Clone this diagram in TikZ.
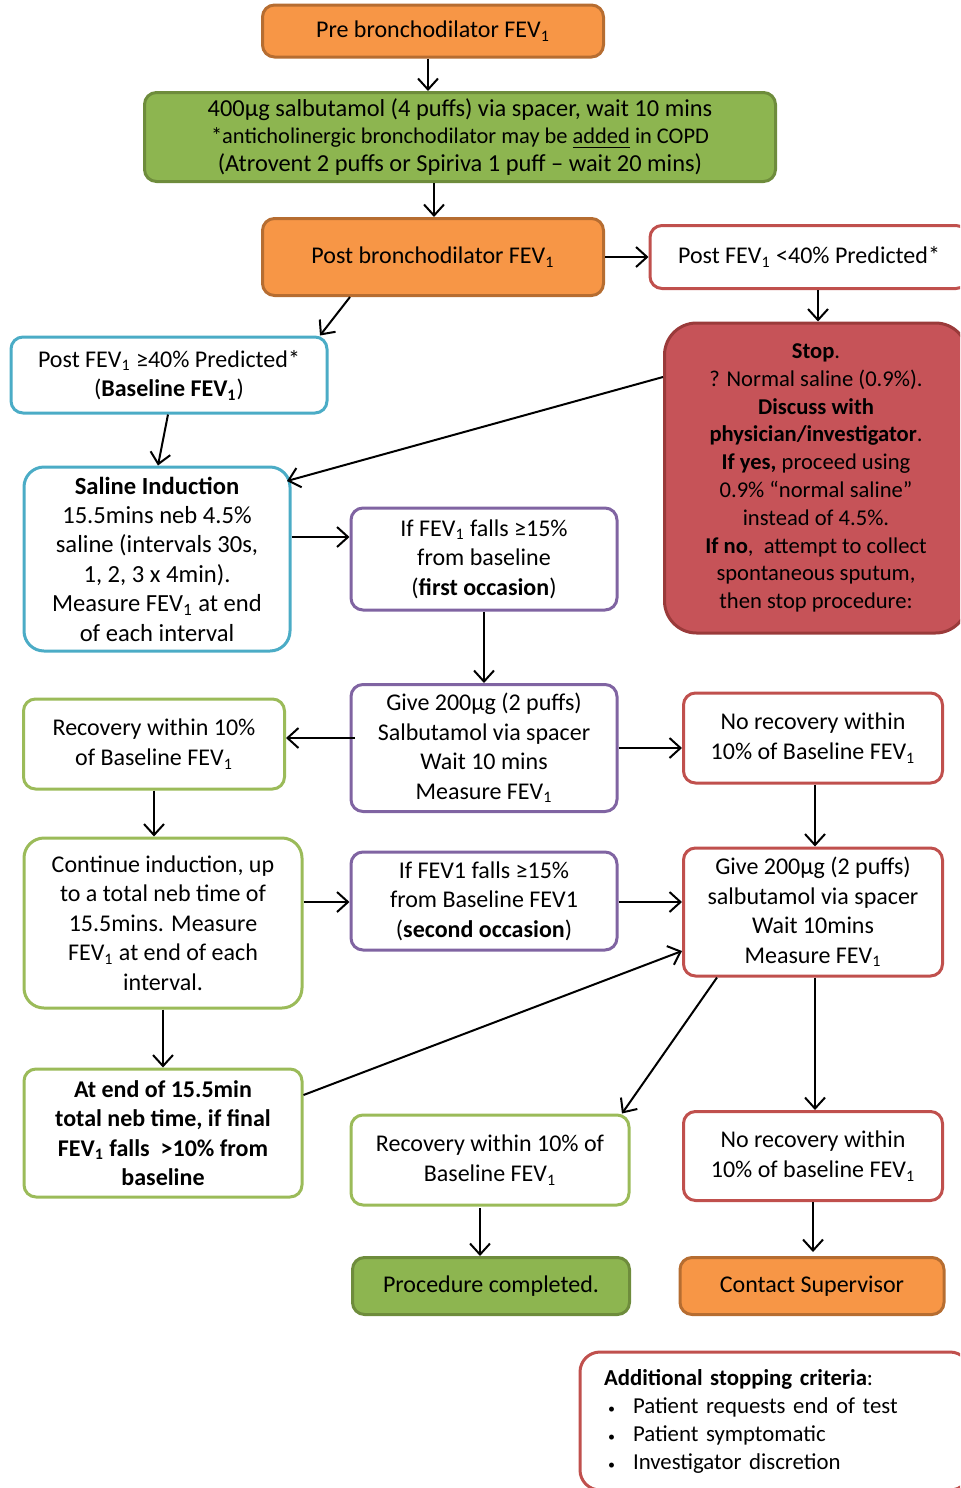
\documentclass[tikz,border=0pt]{standalone}
\usepackage{fontspec}
\setmainfont{Carlito}
\usetikzlibrary{arrows.meta,calc}
\definecolor{orangeF}{HTML}{F79646}
\definecolor{orangeD}{HTML}{B66D31}
\definecolor{greenF}{HTML}{8DB550}
\definecolor{greenD}{HTML}{6E8C3C}
\definecolor{redF}{HTML}{C65358}
\definecolor{redD}{HTML}{9A3A3A}
\definecolor{blueB}{HTML}{4BACC6}
\definecolor{purpleB}{HTML}{8064A2}
\definecolor{greenB}{HTML}{9BBB59}
\definecolor{redB}{HTML}{C0504D}
\newcommand{\fev}{FEV\textsubscript{1}}
\newcommand{\smallbul}{\hspace*{2pt}\makebox[12.5pt][l]{\fontsize{7}{7}\selectfont •}}
\begin{document}
\begin{tikzpicture}[x=0.5pt,y=-0.5pt,
  box/.style={rounded corners=6pt, line width=1.5pt, align=center, inner sep=0pt,
    font=\fontsize{12}{14.7}\selectfont, text=black},
  wbox/.style={box, fill=white},
  arr/.style={line width=1pt, -{Straight Barb[length=5.5pt,width=10pt,line width=1pt]}}]
\useasboundingbox (0,0) rectangle (960,1488);
\clip (0,0) rectangle (960,1488);
% nodes
\node[box, fill=orangeF, draw=orangeD, minimum width=170.5pt, minimum height=26pt] (pre) at (433,31) {Pre bronchodilator \fev};
\node[box, fill=greenF, draw=greenD, minimum width=315.5pt, minimum height=44.5pt, font=\fontsize{12.2}{13.75}\selectfont] (salb) at (460,137)
  {400µg salbutamol (4 puffs) via spacer, wait 10 mins\\
   {\fontsize{11.2}{13.75}\selectfont *anticholinergic bronchodilator may be \underline{added} in COPD}\\
   (Atrovent 2 puffs or Spiriva 1 puff – wait 20 mins)};
\node[box, fill=orangeF, draw=orangeD, minimum width=170.5pt, minimum height=38.5pt] (post) at (433,257) {Post bronchodilator \fev};
\node[wbox, draw=redB, minimum width=159pt, minimum height=31.5pt] (lt40) at (809,257) {Post \fev{} <40\% Predicted*};
\node[wbox, draw=blueB, minimum width=158pt, minimum height=38pt] (ge40) at (169,375) {Post \fev{} ≥40\% Predicted*\\(\textbf{Baseline \fev})};
\node[box, fill=redF, draw=redD, rounded corners=16pt, minimum width=151.5pt, minimum height=155pt, font=\fontsize{11.3}{13.9}\selectfont] (stop) at (816,478)
  {\textbf{Stop}.\\? Normal saline (0.9\%).\\\textbf{Discuss with}\\\textbf{physician/investigator}.\\\textbf{If yes,} proceed using\\0.9\% “normal saline”\\instead of 4.5\%.\\\textbf{If no},~ attempt to collect\\spontaneous sputum,\\then stop procedure:};
\node[wbox, draw=blueB, rounded corners=10pt, minimum width=133pt, minimum height=92pt, font=\fontsize{12.3}{14.7}\selectfont] (saline) at (157,559)
  {\textbf{Saline Induction}\\15.5mins neb 4.5\%\\saline (intervals 30s,\\1, 2, 3 x 4min).\\Measure \fev{} at end\\of each interval};
\node[wbox, draw=purpleB, minimum width=133pt, minimum height=51pt] (first) at (484,559) {If \fev{} falls ≥15\%\\from baseline\\(\textbf{first occasion})};
\node[wbox, draw=purpleB, minimum width=133pt, minimum height=63.5pt] (give1) at (484,748) {Give 200µg (2 puffs)\\Salbutamol via spacer\\Wait 10 mins\\Measure \fev};
\node[wbox, draw=greenB, minimum width=130.5pt, minimum height=45pt, font=\fontsize{12}{15}\selectfont] (rec1) at (154,744) {Recovery within 10\%\\of Baseline \fev};
\node[wbox, draw=redB, minimum width=129.5pt, minimum height=45pt, font=\fontsize{12}{15}\selectfont] (norec1) at (813,738) {No recovery within\\10\% of Baseline \fev};
\node[wbox, draw=greenB, rounded corners=10pt, minimum width=139pt, minimum height=85pt] (cont) at (163,923) {Continue induction, up\\to a total neb time of\\15.5mins. Measure\\\fev{} at end of each\\interval.};
\node[wbox, draw=purpleB, minimum width=133pt, minimum height=49pt] (second) at (484,901) {If FEV1 falls ≥15\%\\from Baseline FEV1\\(\textbf{second occasion})};
\node[wbox, draw=redB, minimum width=129.5pt, minimum height=64pt] (give2) at (813,912) {Give 200µg (2 puffs)\\salbutamol via spacer\\Wait 10mins\\Measure \fev};
\node[wbox, draw=greenB, minimum width=139pt, minimum height=64pt, font=\bfseries\fontsize{12}{14.7}\selectfont] (atend) at (163,1133) {At end of 15.5min\\total neb time, if final\\\fev{} falls~ >10\% from\\baseline};
\node[wbox, draw=greenB, minimum width=139pt, minimum height=45pt, font=\fontsize{12}{15}\selectfont] (rec2) at (490,1160) {Recovery within 10\% of\\Baseline \fev};
\node[wbox, draw=redB, minimum width=129.5pt, minimum height=44.5pt, font=\fontsize{12}{15}\selectfont] (norec2) at (813,1156) {No recovery within\\10\% of baseline \fev};
\node[box, fill=greenF, draw=greenD, minimum width=138.5pt, minimum height=28.5pt] (done) at (491,1286) {Procedure completed.};
\node[box, fill=orangeF, draw=orangeD, minimum width=132pt, minimum height=28.5pt] (sup) at (812,1286) {Contact Supervisor};
\node[wbox, draw=redB, rounded corners=10pt, minimum width=195pt, minimum height=69pt, align=left, text width=171pt, inner xsep=12pt, font=\fontsize{11.4}{14}\selectfont] (addl) at (775,1421)
  {\textbf{Additional stopping criteria}:\\
   \smallbul Patient requests end of test\\
   \smallbul Patient symptomatic\\
   \smallbul Investigator discretion};
% connectors
\draw[arr] (428,0 |- pre.south) -- (428,0 |- salb.north);
\draw[arr] (434,0 |- salb.south) -- (434,0 |- post.north);
\draw[arr] (post.east) -- (lt40.west);
\draw[arr] (350,0 |- post.south) -- (320,0 |- ge40.north);
\draw[arr] (818,0 |- lt40.south) -- (818,0 |- stop.north);
\draw[arr] (168,0 |- ge40.south) -- (158,0 |- saline.north);
\draw[arr] (stop.west |- 0,377) -- (287,481);
\draw[arr] (saline.east |- 0,537) -- (first.west |- 0,537);
\draw[arr] (first.south) -- (give1.north);
\draw[arr] (355,738) -- (rec1.east |- 0,738);
\draw[arr] (give1.east |- 0,748) -- (norec1.west |- 0,748);
\draw[arr] (rec1.south) -- (cont.north -| rec1.south);
\draw[arr] (815,0 |- norec1.south) -- (815,0 |- give2.north);
\draw[arr] (cont.east |- 0,902) -- (second.west |- 0,902);
\draw[arr] (second.east |- 0,902) -- (give2.west |- 0,902);
\draw[arr] (cont.south) -- (atend.north);
\draw[arr] (atend.east |- 0,1095) -- (give2.west |- 0,951);
\draw[arr] (717,0 |- give2.south) -- (622,0 |- rec2.north);
\draw[arr] (815,0 |- give2.south) -- (815,0 |- norec2.north);
\draw[arr] (480,1208) -- (480,0 |- done.north);
\draw[arr] (813,0 |- norec2.south) -- (813,1252);
\end{tikzpicture}
\end{document}
